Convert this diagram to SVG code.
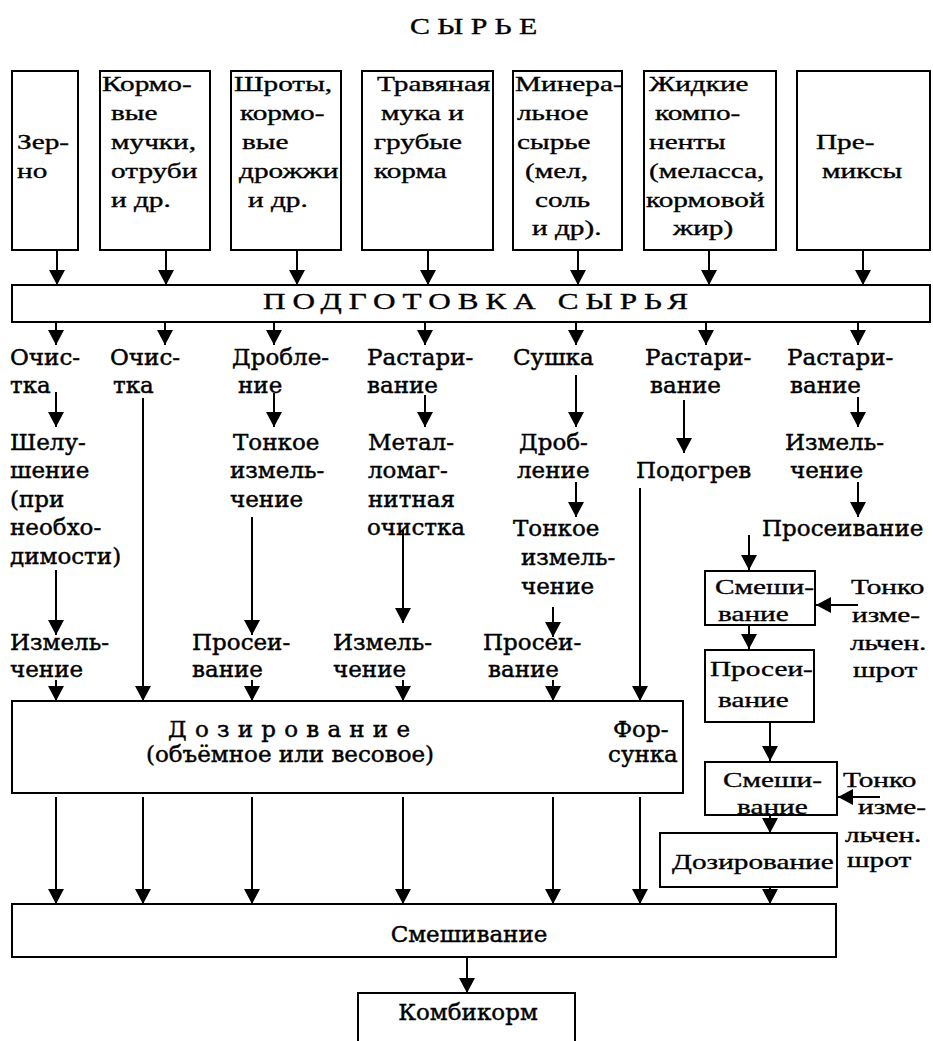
<svg xmlns="http://www.w3.org/2000/svg" width="933" height="1041" viewBox="0 0 933 1041">
<style>
.bx{font-family:"Liberation Serif","DejaVu Serif",serif;font-size:22px;fill:#000;stroke:#000;stroke-width:0.35}
.lb{font-family:"DejaVu Serif","Liberation Serif",serif;font-size:23px;fill:#000;stroke:#000;stroke-width:0.45}
.mid{text-anchor:middle}
rect{fill:#fff;stroke:#000;stroke-width:2}
#connectors line{stroke:#000;stroke-width:2;marker-end:url(#ah)}
</style>
<defs>
<marker id="ah" markerUnits="userSpaceOnUse" markerWidth="16" markerHeight="16" refX="15" refY="8" orient="auto">
<path d="M0,0 L15,8 L0,16 z" fill="#000"/>
</marker>
</defs>
<rect x="0" y="0" width="933" height="1041" style="stroke:none"/>
<text class="bx" transform="translate(410 34) scale(1.3 1)" style="font-size:23px" textLength="98" lengthAdjust="spacing">СЫРЬЕ</text>

<g id="connectors">
<line x1="57" y1="250" x2="57" y2="285"/>
<line x1="166" y1="250" x2="166" y2="285"/>
<line x1="297" y1="250" x2="297" y2="285"/>
<line x1="428" y1="250" x2="428" y2="285"/>
<line x1="578" y1="250" x2="578" y2="285"/>
<line x1="709" y1="250" x2="709" y2="285"/>
<line x1="863" y1="250" x2="863" y2="285"/>
<line x1="56" y1="322" x2="56" y2="345"/>
<line x1="165" y1="322" x2="165" y2="345"/>
<line x1="274" y1="322" x2="274" y2="345"/>
<line x1="425" y1="322" x2="425" y2="345"/>
<line x1="576" y1="322" x2="576" y2="345"/>
<line x1="706" y1="322" x2="706" y2="345"/>
<line x1="858" y1="322" x2="858" y2="345"/>
<line x1="56" y1="392" x2="56" y2="427"/>
<line x1="56" y1="570" x2="56" y2="635"/>
<line x1="56" y1="680" x2="56" y2="701"/>
<line x1="143" y1="398" x2="143" y2="701"/>
<line x1="274" y1="393" x2="274" y2="427"/>
<line x1="252" y1="517" x2="252" y2="635"/>
<line x1="252" y1="680" x2="252" y2="701"/>
<line x1="425" y1="395" x2="425" y2="427"/>
<line x1="403" y1="530" x2="403" y2="623"/>
<line x1="403" y1="680" x2="403" y2="701"/>
<line x1="576" y1="375" x2="576" y2="427"/>
<line x1="576" y1="482" x2="576" y2="517"/>
<line x1="553" y1="607" x2="553" y2="637"/>
<line x1="553" y1="680" x2="553" y2="701"/>
<line x1="684" y1="400" x2="684" y2="453"/>
<line x1="640" y1="488" x2="640" y2="701"/>
<line x1="858" y1="397" x2="858" y2="427"/>
<line x1="858" y1="482" x2="858" y2="517"/>
<line x1="749" y1="535" x2="749" y2="570"/>
<line x1="858" y1="605" x2="816" y2="605"/>
<line x1="749" y1="625" x2="749" y2="649"/>
<line x1="770" y1="722" x2="770" y2="761"/>
<line x1="880" y1="797" x2="838" y2="797"/>
<line x1="770" y1="815" x2="770" y2="833"/>
<line x1="770" y1="887" x2="770" y2="904"/>
<line x1="56" y1="797" x2="56" y2="904"/>
<line x1="143" y1="797" x2="143" y2="904"/>
<line x1="252" y1="797" x2="252" y2="904"/>
<line x1="403" y1="797" x2="403" y2="904"/>
<line x1="553" y1="797" x2="553" y2="904"/>
<line x1="640" y1="797" x2="640" y2="904"/>
<line x1="467" y1="957" x2="467" y2="993"/>
</g>

<g id="n-zerno"><rect x="12" y="71" width="66" height="179"/>
<text class="bx" transform="translate(17 149) scale(1.33 1)">Зер-</text>
<text class="bx" transform="translate(17 178) scale(1.33 1)">но</text></g>
<g id="n-mouchki"><rect x="100" y="71" width="110" height="179"/>
<text class="bx" transform="translate(102 91) scale(1.33 1)">Кормо-</text>
<text class="bx" transform="translate(111 120) scale(1.33 1)">вые</text>
<text class="bx" transform="translate(111 149) scale(1.33 1)">мучки,</text>
<text class="bx" transform="translate(111 178) scale(1.33 1)">отруби</text>
<text class="bx" transform="translate(111 207) scale(1.33 1)">и др.</text></g>
<g id="n-shroty"><rect x="231" y="71" width="110" height="179"/>
<text class="bx" transform="translate(234 91) scale(1.33 1)">Шроты,</text>
<text class="bx" transform="translate(240 120) scale(1.33 1)">кормо-</text>
<text class="bx" transform="translate(242 149) scale(1.33 1)">вые</text>
<text class="bx" transform="translate(239 178) scale(1.33 1)">дрожжи</text>
<text class="bx" transform="translate(248 207) scale(1.33 1)">и др.</text></g>
<g id="n-trava"><rect x="362" y="71" width="131" height="179"/>
<text class="bx" transform="translate(377 91) scale(1.33 1)">Травяная</text>
<text class="bx" transform="translate(381 120) scale(1.33 1)">мука и</text>
<text class="bx" transform="translate(374 149) scale(1.33 1)">грубые</text>
<text class="bx" transform="translate(374 178) scale(1.33 1)">корма</text></g>
<g id="n-mineral"><rect x="513" y="71" width="109" height="179"/>
<text class="bx" transform="translate(515 91) scale(1.33 1)">Минера-</text>
<text class="bx" transform="translate(517 120) scale(1.33 1)">льное</text>
<text class="bx" transform="translate(517 149) scale(1.33 1)">сырье</text>
<text class="bx" transform="translate(525 178) scale(1.33 1)">(мел,</text>
<text class="bx" transform="translate(535 207) scale(1.33 1)">соль</text>
<text class="bx" transform="translate(532 235) scale(1.33 1)">и др).</text></g>
<g id="n-zhidkie"><rect x="644" y="71" width="132" height="179"/>
<text class="bx" transform="translate(649 91) scale(1.33 1)">Жидкие</text>
<text class="bx" transform="translate(655 120) scale(1.33 1)">компо-</text>
<text class="bx" transform="translate(649 149) scale(1.33 1)">ненты</text>
<text class="bx" transform="translate(649 178) scale(1.33 1)">(меласса,</text>
<text class="bx" transform="translate(646 207) scale(1.33 1)">кормовой</text>
<text class="bx" transform="translate(673 235) scale(1.33 1)">жир)</text></g>
<g id="n-premiksy"><rect x="797" y="71" width="133" height="179"/>
<text class="bx" transform="translate(816 149) scale(1.33 1)">Пре-</text>
<text class="bx" transform="translate(822 178) scale(1.33 1)">миксы</text></g>

<g id="n-podgotovka"><rect x="12" y="285" width="918" height="37"/>
<text class="bx" transform="translate(263 309) scale(1.3 1)" style="font-size:24px" textLength="327" lengthAdjust="spacing">ПОДГОТОВКА СЫРЬЯ</text></g>

<g id="col1" class="lb">
<text x="10" y="365">Очис-</text><text x="10" y="393">тка</text>
<text x="10" y="450">Шелу-</text><text x="10" y="478">шение</text><text x="10" y="507">(при</text><text x="10" y="535">необхо-</text><text x="10" y="564">димости)</text>
<text x="10" y="650">Измель-</text><text x="10" y="677">чение</text>
</g>
<g id="col2" class="lb">
<text x="110" y="365">Очис-</text><text x="113" y="393">тка</text>
</g>
<g id="col3" class="lb">
<text x="232" y="365">Дробле-</text><text x="238" y="393">ние</text>
<text x="233" y="450">Тонкое</text><text x="230" y="478">измель-</text><text x="230" y="507">чение</text>
<text x="192" y="650">Просеи-</text><text x="192" y="677">вание</text>
</g>
<g id="col4" class="lb">
<text x="367" y="365">Растари-</text><text x="367" y="393">вание</text>
<text x="368" y="450">Метал-</text><text x="368" y="478">ломаг-</text><text x="368" y="507">нитная</text><text x="367" y="535">очистка</text>
<text x="333" y="650">Измель-</text><text x="333" y="677">чение</text>
</g>
<g id="col5" class="lb">
<text x="513" y="365">Сушка</text>
<text x="519" y="450">Дроб-</text><text x="517" y="478">ление</text>
<text x="513" y="536">Тонкое</text><text x="521" y="565">измель-</text><text x="521" y="594">чение</text>
<text x="483" y="650">Просеи-</text><text x="488" y="677">вание</text>
</g>
<g id="col6" class="lb">
<text x="645" y="365">Растари-</text><text x="650" y="393">вание</text>
<text x="636" y="478">Подогрев</text>
</g>
<g id="col7" class="lb">
<text x="787" y="365">Растари-</text><text x="790" y="393">вание</text>
<text x="785" y="450">Измель-</text><text x="790" y="478">чение</text>
<text x="762" y="536">Просеивание</text>
</g>

<g id="n-smesh1"><rect x="705" y="571" width="110" height="54"/>
<text class="bx" transform="translate(715 594) scale(1.33 1)">Смеши-</text>
<text class="bx" transform="translate(718 621) scale(1.33 1)">вание</text></g>
<g id="n-shrot1">
<text class="bx" transform="translate(851 594) scale(1.33 1)">Тонко</text>
<text class="bx" transform="translate(852 622) scale(1.33 1)">изме-</text>
<text class="bx" transform="translate(850 650) scale(1.33 1)">льчен.</text>
<text class="bx" transform="translate(853 677) scale(1.33 1)">шрот</text></g>
<g id="n-prosei"><rect x="705" y="650" width="109" height="72"/>
<text class="bx" transform="translate(710 676) scale(1.33 1)">Просеи-</text>
<text class="bx" transform="translate(718 707) scale(1.33 1)">вание</text></g>
<g id="n-smesh2"><rect x="705" y="762" width="132" height="53"/>
<text class="bx" transform="translate(723 787) scale(1.33 1)">Смеши-</text>
<text class="bx" transform="translate(737 814) scale(1.33 1)">вание</text></g>
<g id="n-shrot2">
<text class="bx" transform="translate(843 787) scale(1.33 1)">Тонко</text>
<text class="bx" transform="translate(858 814) scale(1.33 1)">изме-</text>
<text class="bx" transform="translate(845 842) scale(1.33 1)">льчен.</text>
<text class="bx" transform="translate(847 867) scale(1.33 1)">шрот</text></g>
<g id="n-doz2"><rect x="660" y="833" width="177" height="54"/>
<text class="bx" transform="translate(672 869) scale(1.33 1)">Дозирование</text></g>

<g id="n-doz"><rect x="12" y="701" width="671" height="92"/>
<text class="lb" x="168" y="737" textLength="242" lengthAdjust="spacing">Дозирование</text>
<text class="lb mid" x="290" y="762">(объёмное или весовое)</text>
<text class="lb" x="613" y="737">Фор-</text>
<text class="lb" x="608" y="762">сунка</text></g>

<g id="n-smesh"><rect x="12" y="904" width="824" height="53"/>
<text class="lb mid" x="469" y="942">Смешивание</text></g>
<g id="n-kombikorm"><rect x="358" y="993" width="217" height="60"/>
<text class="lb mid" x="468" y="1020">Комбикорм</text></g>
</svg>
